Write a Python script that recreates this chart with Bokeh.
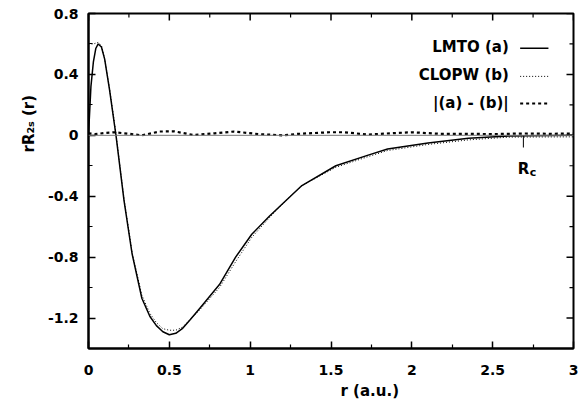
from bokeh.plotting import figure
from bokeh.models import Range1d, FixedTicker, Span, Label, Title
from bokeh.embed import file_html
from bokeh.resources import INLINE

# ---- data ----
r_lmto = [0.0, 0.015, 0.03, 0.045, 0.06, 0.08, 0.10, 0.13, 0.17, 0.22, 0.27, 0.33, 0.38,
          0.42, 0.46, 0.50, 0.54, 0.58, 0.63, 0.685, 0.81, 0.91, 1.01, 1.12, 1.22, 1.32,
          1.53, 1.73, 1.85, 2.1, 2.35, 2.6, 3.0]
lmto = [0.0, 0.32, 0.48, 0.57, 0.60, 0.58, 0.50, 0.30, 0.0, -0.43, -0.78, -1.07, -1.19,
        -1.25, -1.29, -1.31, -1.30, -1.27, -1.21, -1.14, -0.98, -0.80, -0.65, -0.53, -0.43, -0.33,
        -0.20, -0.13, -0.09, -0.05, -0.02, -0.005, 0.0]

r_clopw = [0.0, 0.03, 0.06, 0.08, 0.10, 0.13, 0.17, 0.22, 0.27, 0.33, 0.38, 0.42, 0.46,
           0.50, 0.54, 0.58, 0.63, 0.685, 0.81, 0.91, 1.01, 1.12, 1.22, 1.32, 1.53, 1.73,
           1.85, 2.1, 2.35, 2.6, 3.0]
clopw = [0.60, 0.60, 0.61, 0.59, 0.50, 0.31, 0.01, -0.42, -0.77, -1.05, -1.17, -1.23, -1.27,
         -1.28, -1.28, -1.26, -1.21, -1.15, -1.00, -0.83, -0.67, -0.54, -0.43, -0.33, -0.21, -0.14,
         -0.10, -0.06, -0.03, -0.012, -0.01]

r_diff = [0.0, 0.04, 0.10, 0.16, 0.25, 0.33, 0.44, 0.53, 0.65, 0.78, 0.90, 1.05, 1.20, 1.30,
          1.49, 1.58, 1.73, 1.90, 2.00, 2.17, 2.35, 2.50, 2.70, 2.85, 3.0]
diff = [0.013, 0.008, 0.015, 0.020, 0.010, 0.0, 0.025, 0.026, 0.002, 0.013, 0.025, 0.008, 0.0, 0.010,
        0.020, 0.020, 0.005, 0.015, 0.020, 0.010, 0.010, 0.008, 0.012, 0.010, 0.012]

x_ticks = [0, 0.5, 1, 1.5, 2, 2.5, 3]
x_tick_labels = ["0", "0.5", "1", "1.5", "2", "2.5", "3"]
x_minor = [0.25, 0.75, 1.25, 1.75, 2.25, 2.75]
y_ticks = [-1.2, -0.8, -0.4, 0, 0.4, 0.8]
y_tick_labels = ["-1.2", "-0.8", "-0.4", "0", "0.4", "0.8"]
y_minor = [-1.4, -1.0, -0.6, -0.2, 0.2, 0.6]

rc_r = [2.69, 2.69]
rc_y = [0.0, -0.08]

series_names = ["LMTO (a)", "CLOPW (b)", "|(a) - (b)|"]
x_label = "r (a.u.)"
y_label = "rR\u2082\u209b (r)"

FONT = "DejaVu Sans"
X0, X1, Y0, Y1 = 0.0, 3.0, -1.4, 0.8
FRAME_W, FRAME_H = 485, 335

p = figure(width=585, height=401, x_range=Range1d(X0, X1), y_range=Range1d(Y0, Y1),
           output_backend="svg", toolbar_location=None,
           min_border_left=88, min_border_right=12, min_border_top=13, min_border_bottom=53)
p.grid.visible = False
p.outline_line_color = "black"
p.outline_line_width = 2
p.background_fill_color = "white"
p.border_fill_color = "white"


def style_axis(ax, ticks, labels, minor):
    ax.ticker = FixedTicker(ticks=ticks, minor_ticks=minor)
    ax.major_label_overrides = {t: l for t, l in zip(ticks, labels)}
    ax.major_tick_in = 7
    ax.major_tick_out = 0
    ax.minor_tick_in = 4
    ax.minor_tick_out = 0
    ax.axis_line_width = 2
    ax.major_tick_line_width = 1.5
    ax.minor_tick_line_width = 1.2
    ax.major_label_text_font = FONT
    ax.major_label_text_font_style = "bold"
    ax.major_label_text_color = "black"
    ax.major_label_text_font_size = "14px"


style_axis(p.xaxis[0], x_ticks, x_tick_labels, x_minor)
p.xaxis[0].major_label_standoff = 16
style_axis(p.yaxis[0], y_ticks, y_tick_labels, y_minor)
p.yaxis[0].major_label_standoff = 10

# mirrored inward ticks on the top and right edges
dx_major = 7 * (X1 - X0) / FRAME_W
dy_major = 7 * (Y1 - Y0) / FRAME_H
dx_minor = 4 * (X1 - X0) / FRAME_W
dy_minor = 4 * (Y1 - Y0) / FRAME_H
p.segment(x0=x_ticks, y0=[Y1] * len(x_ticks), x1=x_ticks, y1=[Y1 - dy_major] * len(x_ticks),
          line_color="black", line_width=1.5)
p.segment(x0=x_minor, y0=[Y1] * len(x_minor), x1=x_minor, y1=[Y1 - dy_minor] * len(x_minor),
          line_color="black", line_width=1.2)
p.segment(x0=[X1] * len(y_ticks), y0=y_ticks, x1=[X1 - dx_major] * len(y_ticks), y1=y_ticks,
          line_color="black", line_width=1.5)
p.segment(x0=[X1] * len(y_minor), y0=y_minor, x1=[X1 - dx_minor] * len(y_minor), y1=y_minor,
          line_color="black", line_width=1.2)

p.add_layout(Span(location=0, dimension="width", line_color="#777777", line_width=1))

p.line(r_lmto, lmto, line_color="black", line_width=1.5)
p.line(r_clopw, clopw, line_color="black", line_width=1, line_dash="1 2")
p.line(r_diff, diff, line_color="black", line_width=2.2, line_dash="3 3")
p.line(rc_r, rc_y, line_color="black", line_width=1)

# legend (text right-aligned, sample line to its right)
leg_text_x = 2.60
leg_line_x = [2.67, 2.845]
leg_rows = [0.577, 0.393, 0.215]
leg_styles = [dict(line_width=1.5), dict(line_width=1, line_dash="1 2"),
              dict(line_width=2.2, line_dash="3 3")]
for name, yv, st in zip(series_names, leg_rows, leg_styles):
    p.add_layout(Label(x=leg_text_x, y=yv, text=name, text_align="right", text_baseline="middle",
                       text_font=FONT, text_font_style="bold", text_font_size="15px",
                       text_color="black"))
    p.line(leg_line_x, [yv - 0.006] * 2, line_color="black", **st)

# R_c label
p.add_layout(Label(x=2.655, y=-0.22, text="R", text_align="left", text_baseline="alphabetic",
                   text_font=FONT, text_font_style="bold", text_font_size="15px",
                   text_color="black"))
p.add_layout(Label(x=2.73, y=-0.245, text="c", text_align="left", text_baseline="alphabetic",
                   text_font=FONT, text_font_style="bold", text_font_size="11px",
                   text_color="black"))

# axis titles
p.add_layout(Title(text=x_label, align="left", offset=252, text_font=FONT, text_color="black",
                   text_font_style="bold", text_font_size="15px", standoff=4), "below")
p.add_layout(Title(text=y_label, align="left", offset=196, text_font=FONT, text_color="black",
                   text_font_style="bold", text_font_size="15px", standoff=14), "left")

open("out.html", "w").write(file_html(p, INLINE))
